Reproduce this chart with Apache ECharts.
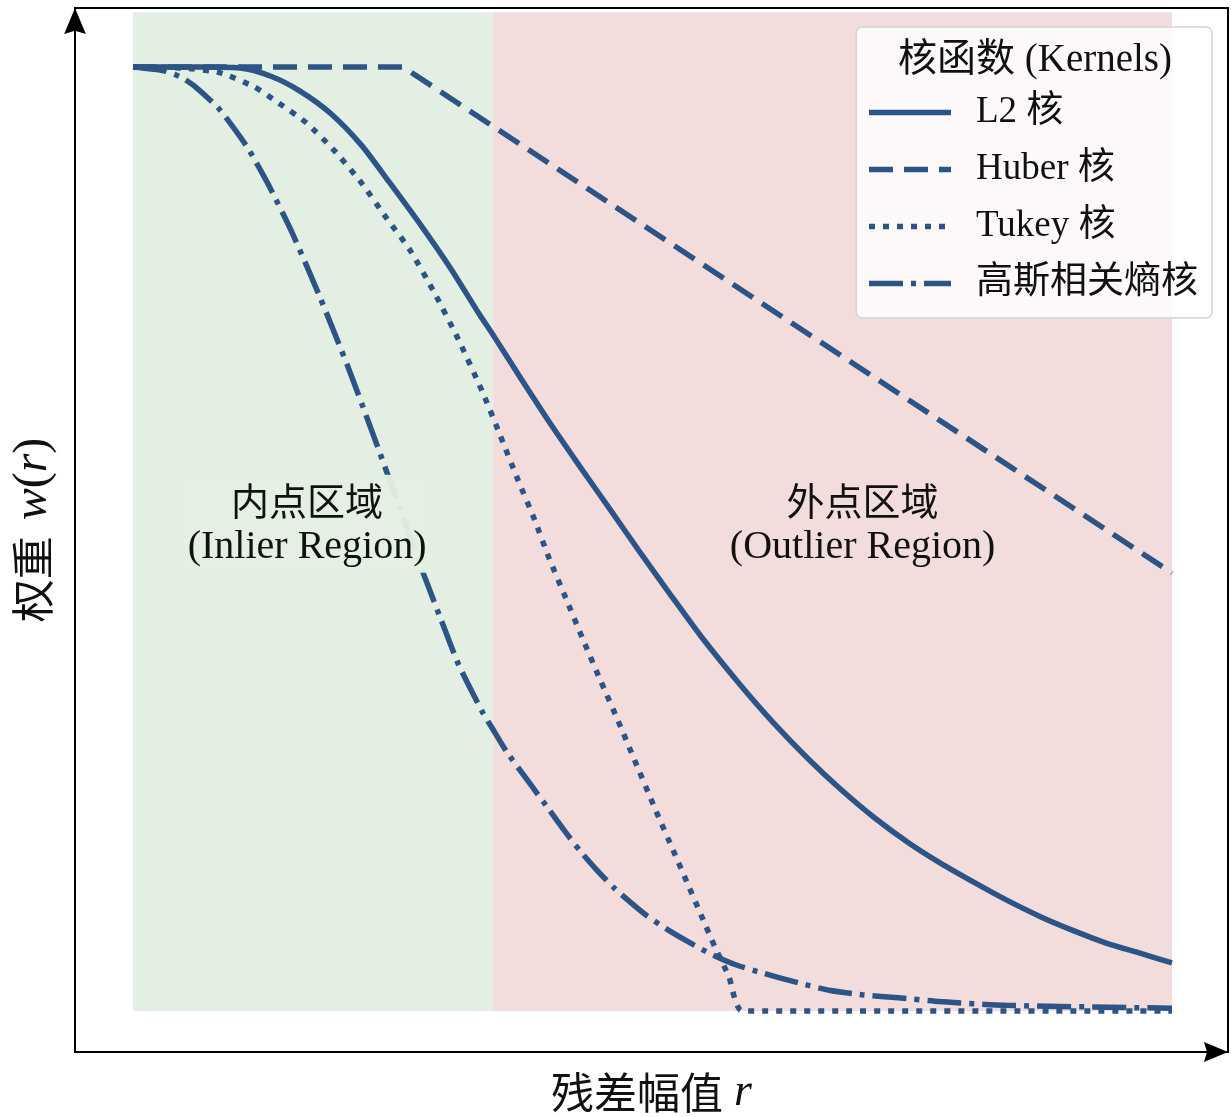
<!DOCTYPE html>
<html>
<head>
<meta charset="utf-8">
<title>核函数权重</title>
<script src="https://cdn.jsdelivr.net/npm/echarts@6/dist/echarts.min.js"></script>
<style>
	html, body {
		margin: 0;
		padding: 0;
		background: #fff;
	}
	#chart {
		width: 1231px;
		height: 1117px;
	}
</style>
</head>
<body>
<div id="chart"></div>
<script>
// residual r on x, weight w(r) on y
const l2Kernel = [
	[0, 1.0], [0.19, 1.0], [0.31, 0.999], [0.40, 0.990], [0.48, 0.975], [0.57, 0.951],
	[0.66, 0.917], [0.74, 0.878], [0.83, 0.833], [0.92, 0.785], [1.00, 0.738], [1.04, 0.716],
	[1.12, 0.670], [1.20, 0.625], [1.29, 0.577], [1.38, 0.530], [1.46, 0.488], [1.55, 0.442],
	[1.64, 0.397], [1.75, 0.347], [1.85, 0.305], [1.95, 0.267], [2.04, 0.236], [2.14, 0.205],
	[2.24, 0.178], [2.33, 0.157], [2.43, 0.136], [2.52, 0.118], [2.62, 0.100], [2.71, 0.086],
	[2.81, 0.072], [2.91, 0.061], [3.00, 0.051]
];
const huberKernel = [
	[0, 1.0], [0.78, 1.0], [1.04, 0.937], [1.64, 0.792], [2.22, 0.652], [3.00, 0.464]
];
const tukeyKernel = [
	[0, 1.0], [0.14, 0.999], [0.25, 0.994], [0.35, 0.979], [0.42, 0.962], [0.50, 0.941],
	[0.58, 0.912], [0.66, 0.877], [0.73, 0.841], [0.80, 0.806], [0.87, 0.761], [0.94, 0.711],
	[1.01, 0.655], [1.06, 0.610], [1.11, 0.564], [1.16, 0.520], [1.20, 0.481], [1.25, 0.437],
	[1.30, 0.393], [1.35, 0.350], [1.40, 0.308], [1.44, 0.273], [1.51, 0.212], [1.56, 0.170],
	[1.60, 0.136], [1.64, 0.102], [1.68, 0.068], [1.72, 0.037], [1.76, 0], [3.00, 0]
];
const gaussKernel = [
	[0, 1.0], [0.09, 0.996], [0.14, 0.989], [0.18, 0.979], [0.25, 0.955], [0.33, 0.915],
	[0.39, 0.876], [0.46, 0.824], [0.54, 0.756], [0.62, 0.683], [0.68, 0.624], [0.71, 0.594],
	[0.84, 0.462], [0.89, 0.414], [0.94, 0.367], [1.01, 0.316], [1.04, 0.298], [1.08, 0.274],
	[1.14, 0.244], [1.20, 0.214], [1.25, 0.189], [1.29, 0.170], [1.34, 0.149], [1.39, 0.130],
	[1.44, 0.114], [1.48, 0.102], [1.54, 0.087], [1.60, 0.074], [1.67, 0.060], [1.74, 0.049],
	[1.82, 0.040], [1.92, 0.030], [2.01, 0.022], [2.11, 0.017], [2.21, 0.014], [2.33, 0.010],
	[2.52, 0.006], [3.00, 0.003]
];
const kernelNames = ["L2 核", "Huber 核", "Tukey 核", "高斯相关熵核"];

// shaded regions: [r start, r end], and top of the shading in w
const inlierRange = [0, 1.04];
const outlierRange = [1.04, 3.0];
const regionTop = 1.058;
const regionNames = [
	["内点区域", "(Inlier Region)"],
	["外点区域", "(Outlier Region)"]
];

const LINE_COLOR = "#2d5486";
const SERIF = "\"Liberation Serif\", \"Times New Roman\", \"Noto Sans CJK SC\", serif";
const CJK = "\"Noto Sans CJK SC\", sans-serif";
const ARROW = "path://M10,0 L20,24 L10,21 L0,24 Z";

let chart = echarts.init(document.getElementById("chart"));

function kernelSeries(name, data, dash, smooth) {
	return {
		name: name,
		type: "line",
		data: data,
		symbol: "none",
		smooth: smooth,
		z: 3,
		lineStyle: {
			color: LINE_COLOR,
			width: 5.5,
			type: dash,
			cap: "butt"
		},
		itemStyle: {
			color: LINE_COLOR
		}
	};
}

function regionLabel(range, names, offset, bg) {
	return {
		value: [(range[0] + range[1]) / 2, regionTop / 2],
		label: {
			show: true,
			position: "inside",
			offset: offset,
			formatter: "{cn|" + names[0] + "}\n{en|" + names[1] + "}",
			backgroundColor: bg,
			padding: [2, 4],
			rich: {
				cn: {
					fontFamily: CJK,
					fontSize: 38,
					lineHeight: 47,
					color: "#111",
					align: "center"
				},
				en: {
					fontFamily: SERIF,
					fontSize: 40,
					lineHeight: 47,
					color: "#111",
					align: "center"
				}
			}
		}
	};
}

chart.setOption({
	animation: false,
	title: {
		text: "核函数 (Kernels)",
		left: 1035,
		top: 41,
		padding: 0,
		textAlign: "center",
		z: 12,
		textStyle: {
			fontFamily: SERIF,
			fontSize: 39,
			fontWeight: "normal",
			color: "#111"
		}
	},
	legend: {
		data: kernelNames,
		orient: "vertical",
		right: 19,
		top: 27,
		padding: [67, 14, 16, 10],
		itemGap: 20,
		itemWidth: 82,
		itemHeight: 14,
		backgroundColor: "rgba(255,255,255,0.82)",
		borderColor: "#d4d4d4",
		borderWidth: 1.5,
		borderRadius: 6,
		z: 10,
		itemStyle: {
			color: "transparent",
			borderWidth: 0
		},
		lineStyle: {
			width: 5.5
		},
		textStyle: {
			fontFamily: SERIF,
			fontSize: 37,
			color: "#111",
			padding: [0, 0, 0, 20]
		}
	},
	grid: {
		left: 75,
		right: 3,
		top: 8,
		bottom: 65,
		outerBoundsMode: "none",
		show: true,
		borderColor: "#000",
		borderWidth: 2
	},
	xAxis: {
		type: "value",
		min: -0.1675,
		max: 3.1617,
		name: "{cn|残差幅值}{sp|}{it|r}",
		nameLocation: "middle",
		nameGap: 18,
		nameTextStyle: {
			rich: {
				cn: {
					fontFamily: CJK,
					fontSize: 43,
					color: "#111"
				},
				sp: {
					width: 11
				},
				it: {
					fontFamily: SERIF,
					fontStyle: "italic",
					fontSize: 46,
					color: "#111"
				}
			}
		},
		axisLine: {
			onZero: false,
			symbol: ["none", ARROW],
			symbolSize: [20, 24],
			symbolOffset: [0, -12],
			lineStyle: {
				color: "#000",
				width: 2
			}
		},
		axisTick: { show: false },
		axisLabel: { show: false },
		splitLine: { show: false }
	},
	yAxis: {
		type: "value",
		min: -0.0434,
		max: 1.0625,
		name: "{cn|权重}{sp|}{it|w}{pa|(}{it|r}{pa|)}",
		nameLocation: "middle",
		nameRotate: 90,
		nameGap: 18,
		nameTextStyle: {
			rich: {
				cn: {
					fontFamily: CJK,
					fontSize: 43,
					color: "#111"
				},
				sp: {
					width: 16
				},
				it: {
					fontFamily: SERIF,
					fontStyle: "italic",
					fontSize: 48,
					color: "#111"
				},
				pa: {
					fontFamily: SERIF,
					fontSize: 48,
					color: "#111"
				}
			}
		},
		axisLine: {
			onZero: false,
			symbol: ["none", ARROW],
			symbolSize: [22, 26],
			symbolOffset: [0, -13],
			lineStyle: {
				color: "#000",
				width: 2
			}
		},
		axisTick: { show: false },
		axisLabel: { show: false },
		splitLine: { show: false }
	},
	series: [
		{
			name: "regions",
			type: "line",
			data: [],
			z: 1,
			silent: true,
			markArea: {
				silent: true,
				data: [
					[
						{ xAxis: inlierRange[0], yAxis: 0, itemStyle: { color: "#e3efe2" } },
						{ xAxis: inlierRange[1], yAxis: regionTop }
					],
					[
						{ xAxis: outlierRange[0], yAxis: 0, itemStyle: { color: "#f2dddc" } },
						{ xAxis: outlierRange[1], yAxis: regionTop }
					]
				]
			}
		},
		kernelSeries(kernelNames[0], l2Kernel, "solid", 0.25),
		kernelSeries(kernelNames[1], huberKernel, [24, 11], false),
		kernelSeries(kernelNames[2], tukeyKernel, [6, 8], 0.2),
		kernelSeries(kernelNames[3], gaussKernel, [34, 8, 5, 8], 0.2),
		{
			name: "regionLabels",
			type: "scatter",
			symbolSize: 0,
			silent: true,
			z: 6,
			itemStyle: {
				opacity: 1
			},
			data: [
				regionLabel(inlierRange, regionNames[0], [-6, 12], "rgba(227,239,226,0.96)"),
				regionLabel(outlierRange, regionNames[1], [30, 12], "rgba(242,221,220,0.96)")
			]
		}
	]
});

window.addEventListener("resize", function () {
	chart.resize();
});
</script>
</body>
</html>
